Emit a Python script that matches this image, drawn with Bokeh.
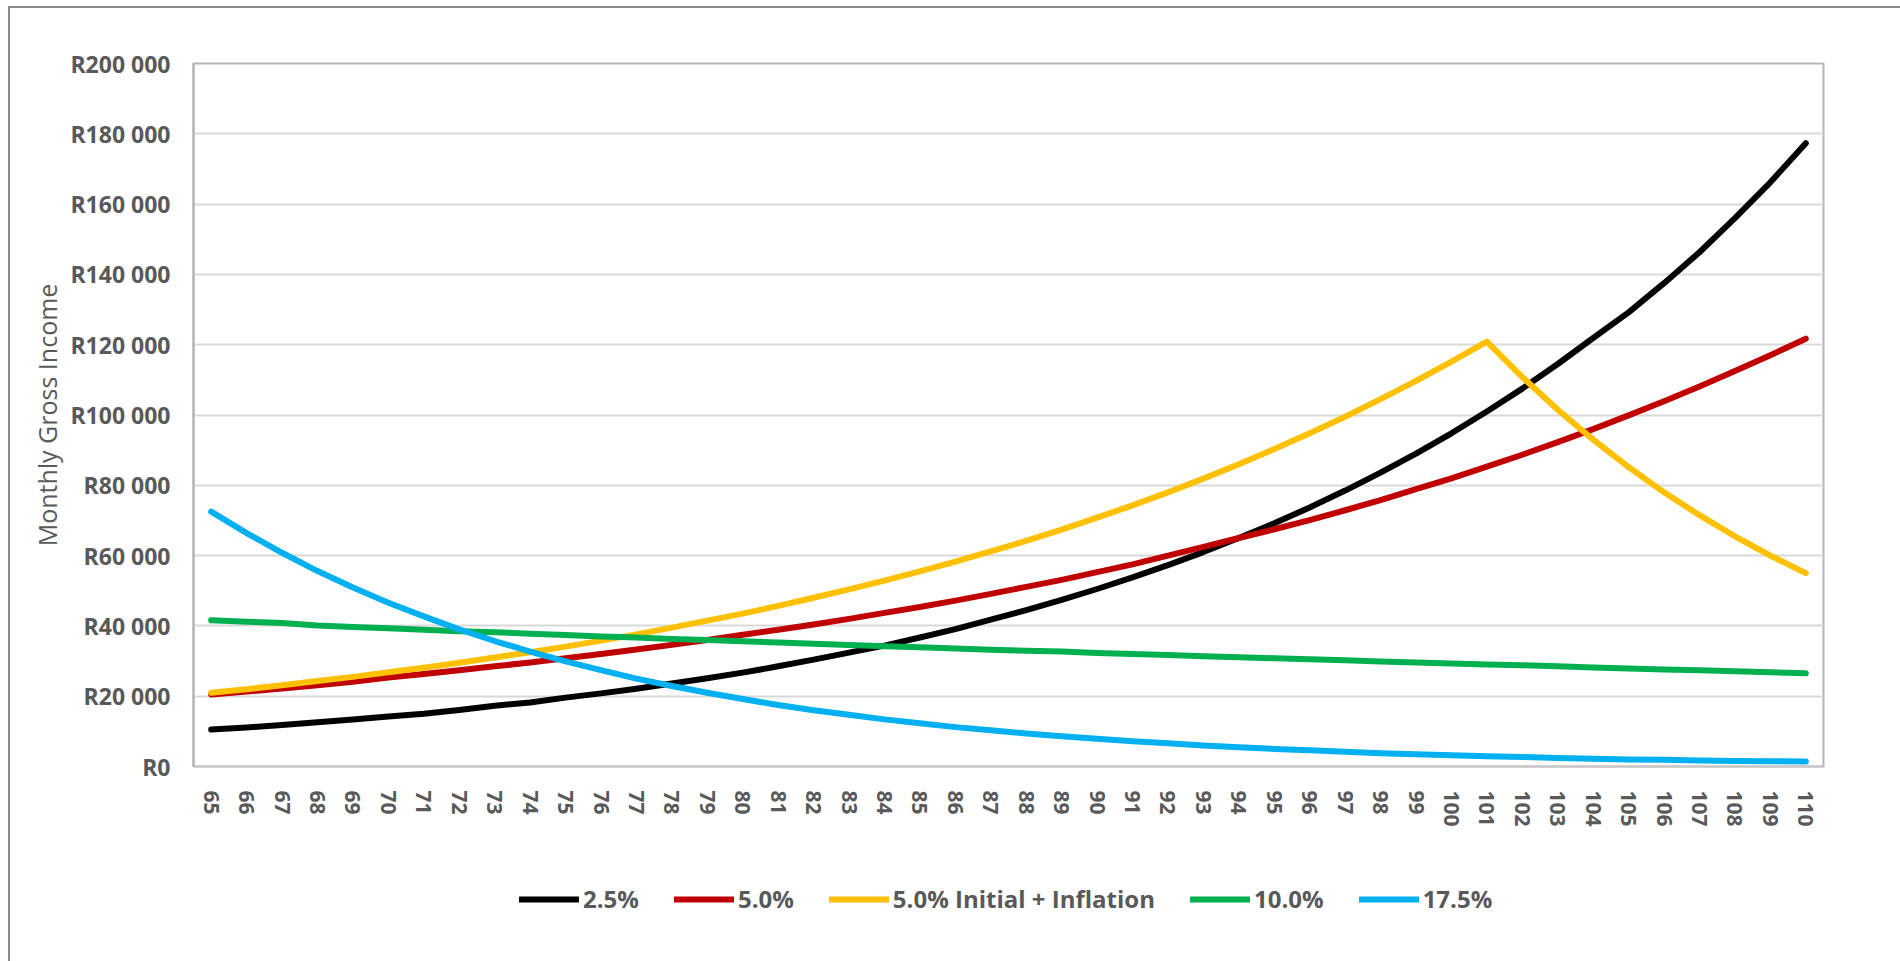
from bokeh.plotting import figure
from bokeh.layouts import column
from bokeh.models import FactorRange, Range1d, Legend, LegendItem, FixedTicker
from bokeh.embed import file_html
from bokeh.resources import INLINE

# Ages on the horizontal axis
ages = [str(a) for a in range(65, 111)]

# Monthly gross income (Rand) per drawdown scenario
income_2_5 = [10500, 11100, 11800, 12600, 13400, 14200, 15000, 16100, 17300, 18200,
              19600, 20800, 22100, 23600, 25100, 26700, 28500, 30400, 32400, 34400,
              36700, 39100, 41800, 44500, 47400, 50500, 53800, 57300, 61000, 65000,
              69200, 73700, 78500, 83600, 89000, 94800, 101000, 107500, 114500, 121900,
              129200, 137500, 146300, 156000, 166200, 177300]
income_5_0 = [20500, 21300, 22200, 23100, 24100, 25300, 26300, 27400, 28500, 29600,
              30800, 32000, 33300, 34600, 36000, 37500, 38900, 40400, 42000, 43700,
              45400, 47200, 49100, 51100, 53100, 55300, 57500, 60000, 62500, 65000,
              67500, 70100, 72900, 75800, 78900, 82000, 85300, 88700, 92300, 96000,
              99900, 103900, 108100, 112500, 117000, 121700]
income_5_0_infl = [21000, 22000, 23100, 24300, 25500, 26800, 28100, 29500, 31000, 32500,
                   34100, 35800, 37600, 39500, 41500, 43500, 45700, 48000, 50400, 52900,
                   55500, 58300, 61200, 64200, 67400, 70800, 74300, 78000, 81900, 86000,
                   90300, 94800, 99500, 104500, 109700, 115200, 120900, 110800, 101500, 93000,
                   85200, 78000, 71500, 65500, 60000, 55000]
income_10_0 = [41600, 41200, 40800, 40100, 39700, 39300, 38900, 38500, 38200, 37800,
               37400, 37000, 36700, 36300, 36000, 35600, 35300, 34900, 34600, 34200,
               33900, 33600, 33200, 32900, 32700, 32300, 32000, 31700, 31400, 31100,
               30800, 30500, 30200, 29900, 29600, 29300, 29000, 28800, 28500, 28200,
               27900, 27600, 27400, 27100, 26800, 26500]
income_17_5 = [72500, 66400, 60800, 55600, 50900, 46600, 42700, 39000, 35700, 32700,
               29900, 27400, 25000, 22900, 21000, 19200, 17500, 16000, 14700, 13400,
               12300, 11200, 10300, 9400, 8600, 7900, 7200, 6600, 6000, 5500,
               5000, 4600, 4200, 3800, 3500, 3200, 2900, 2700, 2400, 2200,
               2000, 1900, 1700, 1600, 1500, 1400]

series_names = ["2.5%", "5.0%", "5.0% Initial + Inflation", "10.0%", "17.5%"]
series_values = [income_2_5, income_5_0, income_5_0_infl, income_10_0, income_17_5]
series_colors = ["#000000", "#C00000", "#FFC000", "#00B050", "#00B0F0"]

y_ticks = [0, 20000, 40000, 60000, 80000, 100000, 120000, 140000, 160000, 180000, 200000]
y_tick_labels = ["R0", "R20 000", "R40 000", "R60 000", "R80 000", "R100 000",
                 "R120 000", "R140 000", "R160 000", "R180 000", "R200 000"]

FONT = "Open Sans"
TEXT_GREY = "#595959"
LINE_W = 6

x_range = FactorRange(*ages, range_padding=0)

# ---- main chart ----
p = figure(
    x_range=x_range,
    y_range=Range1d(0, 200000),
    width=1884, height=821,
    output_backend="svg", toolbar_location=None,
    min_border_left=183, min_border_right=71,
    min_border_top=55, min_border_bottom=60,
)
p.outline_line_color = "#b4b4b4"
p.outline_line_width = 2
p.background_fill_color = "white"
p.border_fill_color = "white"

p.xgrid.visible = False
p.ygrid.grid_line_color = "#d9d9d9"
p.ygrid.grid_line_width = 2

p.yaxis.ticker = FixedTicker(ticks=y_ticks)
p.yaxis.major_label_overrides = {t: lab for t, lab in zip(y_ticks, y_tick_labels)}
p.yaxis.major_tick_line_color = None
p.yaxis.minor_tick_line_color = None
p.yaxis.major_label_standoff = 17
p.yaxis.major_label_text_font = FONT
p.yaxis.major_label_text_font_size = "23px"
p.yaxis.major_label_text_font_style = "bold"
p.yaxis.major_label_text_color = TEXT_GREY
p.yaxis.axis_line_color = "#b4b4b4"
p.yaxis.axis_line_width = 2
p.yaxis.axis_label = "Monthly Gross Income"
p.yaxis.axis_label_text_font = FONT
p.yaxis.axis_label_text_font_size = "25px"
p.yaxis.axis_label_text_font_style = "normal"
p.yaxis.axis_label_text_color = TEXT_GREY
p.yaxis.axis_label_standoff = 3

p.xaxis.major_label_orientation = "vertical"
p.xaxis.major_tick_line_color = None
p.xaxis.minor_tick_line_color = None
p.xaxis.major_label_standoff = 18
p.xaxis.major_label_text_font = FONT
p.xaxis.major_label_text_font_size = "21px"
p.xaxis.major_label_text_font_style = "bold"
p.xaxis.major_label_text_color = TEXT_GREY
p.xaxis.axis_line_color = "#c8c8c8"
p.xaxis.axis_line_width = 2

for vals, color in zip(series_values, series_colors):
    p.line(ages, vals, line_color=color, line_width=LINE_W,
           line_cap="round", line_join="round")

# ---- legend strip underneath the chart ----
# The strip's y range lies below zero, so its series lines stay out of view
# and only serve as legend keys.
lf = figure(
    width=1884, height=132,
    x_range=x_range, y_range=Range1d(-2, -1),
    x_axis_type=None, y_axis_type=None,
    output_backend="svg", toolbar_location=None,
    min_border=0,
)
lf.outline_line_color = None
lf.background_fill_color = "white"
lf.border_fill_color = "white"

items = []
for name, vals, color in zip(series_names, series_values, series_colors):
    key = lf.line(ages, vals, line_color=color, line_width=LINE_W,
                  line_cap="round", line_join="round")
    items.append(LegendItem(label=name, renderers=[key]))

legend = Legend(
    items=items, orientation="horizontal", location=(326, 46),
    glyph_width=60, glyph_height=24, label_standoff=4, spacing=35,
    padding=0, margin=0, border_line_color=None, background_fill_alpha=0,
    label_text_font=FONT, label_text_font_size="24px",
    label_text_font_style="bold", label_text_color=TEXT_GREY,
)
lf.add_layout(legend)

page = column(p, lf, spacing=0, width=1884)
page.styles = {
    "box-sizing": "content-box",
    "width": "1884px",
    "padding-right": "8px",
    "margin-left": "8px", "margin-top": "6px",
    "border-left": "2px solid #8a8a8a",
    "border-top": "2px solid #8a8a8a",
    "border-right": "2px solid #8a8a8a",
}

open("out.html", "w").write(file_html(page, INLINE))
